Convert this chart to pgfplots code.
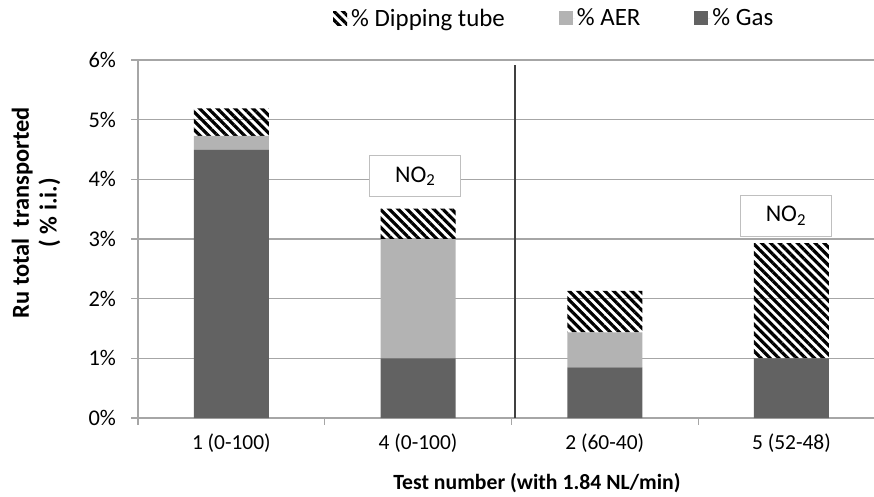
\documentclass[border=0pt]{standalone}
\usepackage{pgfplots}
\pgfplotsset{compat=1.18}
\usepackage{fontspec}
\setmainfont{Carlito}
\usetikzlibrary{patterns.meta}
\definecolor{gascol}{HTML}{626262}
\definecolor{aercol}{HTML}{B3B3B3}
\definecolor{gridcol}{HTML}{A6A6A6}
\definecolor{boxcol}{HTML}{BFBFBF}
\begin{document}
\begin{tikzpicture}
\begin{axis}[
  scale only axis, width=736bp, height=358bp,
  xmin=-0.5, xmax=3.442, ymin=0, ymax=6,
  ybar stacked, bar width=75bp,
  axis x line*=bottom, axis y line*=left,
  axis line style={gridcol, line width=1.2bp},
  ymajorgrids, grid style={gridcol, line width=1.1bp},
  ytick={0,1,2,3,4,5,6}, yticklabels={0\%,1\%,2\%,3\%,4\%,5\%,6\%},
  xtick={-0.5,0.5,1.5,2.5}, xticklabels={},
  extra x ticks={0,1,2,3},
  extra x tick labels={1 (0-100),4 (0-100),2 (60-40),5 (52-48)},
  extra x tick style={major tick length=0pt, grid=none},
  tick align=outside, major tick length=6.5bp,
  tick style={gridcol, line width=1.2bp},
  xticklabel style={font=\fontsize{21.5}{25}\selectfont, anchor=base, yshift=-31.5bp},
  yticklabel style={font=\fontsize{22.5}{26}\selectfont, anchor=east, xshift=-12bp},
  xlabel={Test number (with 1.84 NL/min)},
  xlabel style={font=\bfseries\fontsize{21.8}{25}\selectfont, at={(axis description cs:0.542,-0.182)}, anchor=center},
  ylabel={Ru total\ \ transported\\( \% i.i.)},
  ylabel style={font=\bfseries\fontsize{24.5}{28}\selectfont, align=center, at={(axis description cs:-0.1386,0.573)}, anchor=center},
  legend columns=3, reverse legend,
  legend style={at={(axis description cs:0.265,1.117)}, anchor=west, draw=none, fill=none,
    font=\fontsize{25}{29}\selectfont, inner xsep=0pt,
    /tikz/every even column/.append style={column sep=52bp}},
  legend image code/.code={\fill[#1] (0bp,-7bp) rectangle (14bp,7bp);\path (0bp,0bp) -- (16bp,0bp);},
]
\addplot[fill=gascol, draw=none] coordinates {(0,4.5) (1,1.0) (2,0.85) (3,1.0)};
\addlegendentry{\% Gas}
\addplot[fill=aercol, draw=none] coordinates {(0,0.23) (1,2.0) (2,0.585) (3,0)};
\addlegendentry{\% AER\hspace{10bp}}
\addplot[pattern={Lines[angle=-45,distance=6.3bp,line width=3.2bp]}, pattern color=black, draw=none] coordinates {(0,0.46) (1,0.51) (2,0.695) (3,1.93)};
\addlegendentry{\% Dipping tube}
\draw[color=black!75, line width=1.6bp] (axis cs:1.52,0) -- (axis cs:1.52,5.92);
\node[draw=boxcol, line width=1.2bp, fill=white, minimum width=91bp, minimum height=41bp, inner sep=0pt, font=\fontsize{24}{28}\selectfont] at (axis cs:0.985,4.05) {NO\textsubscript{2}};
\node[draw=boxcol, line width=1.2bp, fill=white, minimum width=91bp, minimum height=41bp, inner sep=0pt, font=\fontsize{24}{28}\selectfont] at (axis cs:2.97,3.39) {NO\textsubscript{2}};
\end{axis}
\pgfresetboundingbox
\path[use as bounding box] (-138bp,-79bp) rectangle (736bp,418bp);
\end{tikzpicture}
\end{document}
